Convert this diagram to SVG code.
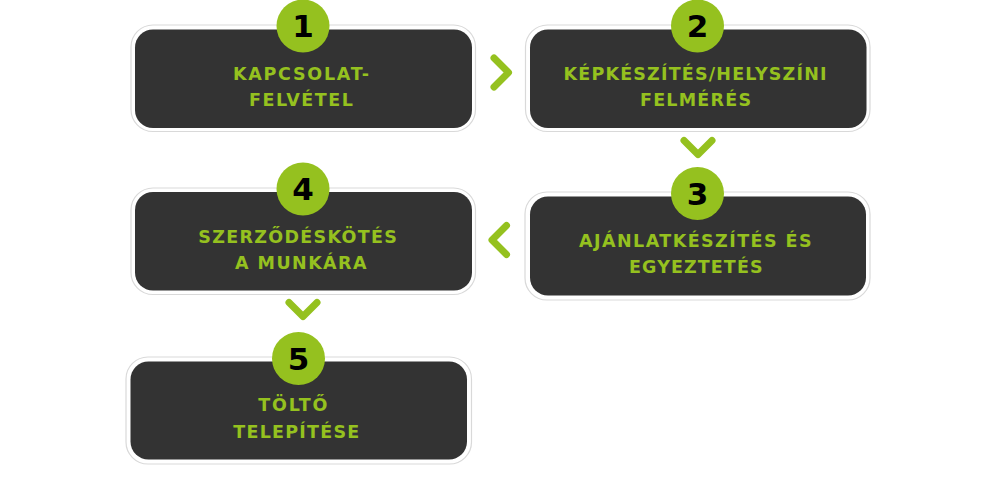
<svg xmlns="http://www.w3.org/2000/svg" width="1000" height="481" viewBox="0 0 1000 481">
<style>
.frame{fill:#ffffff;stroke:#d9d9d9;stroke-width:1.2}
.box{fill:#333333}
.badge{fill:#95c11f}
.num{font-family:"DejaVu Sans","Open Sans",sans-serif;font-weight:700;font-size:31px;fill:#000000;text-anchor:middle}
.lbl{font-family:"DejaVu Sans","Liberation Sans",sans-serif;font-weight:700;font-size:17.5px;fill:#95c11f;text-anchor:middle}
.chev{fill:none;stroke:#95c11f;stroke-width:7;stroke-linecap:round;stroke-linejoin:round}
</style>
<rect width="1000" height="481" fill="#ffffff"/>
<g id="connectors">
<polyline class="chev" points="494,58 508.5,72.5 494,87"/>
<polyline class="chev" points="684,140.5 698,154.5 712,140.5"/>
<polyline class="chev" points="506.5,225.5 492,240 506.5,254.5"/>
<polyline class="chev" points="289,302.5 303,316.5 317,302.5"/>
</g>
<g id="node1">
<rect class="frame" x="131" y="25" width="344.5" height="106.5" rx="22"/>
<rect class="box" x="135" y="29.5" width="337" height="98.5" rx="18"/>
<circle class="badge" cx="303" cy="26" r="26.5"/>
<text class="num" x="303" y="37">1</text>
<text class="lbl" x="301" y="79.5" textLength="136" lengthAdjust="spacing">KAPCSOLAT-</text>
<text class="lbl" x="301" y="105.5" textLength="104" lengthAdjust="spacing">FELVÉTEL</text>
</g>
<g id="node2">
<rect class="frame" x="525.5" y="25" width="344.5" height="106.5" rx="22"/>
<rect class="box" x="530" y="29.5" width="336.5" height="98.5" rx="18"/>
<circle class="badge" cx="697.5" cy="26" r="26.5"/>
<text class="num" x="697.5" y="37">2</text>
<text class="lbl" x="695" y="80" textLength="263" lengthAdjust="spacing">KÉPKÉSZÍTÉS/HELYSZÍNI</text>
<text class="lbl" x="695.5" y="106" textLength="111" lengthAdjust="spacing">FELMÉRÉS</text>
</g>
<g id="node3">
<rect class="frame" x="525" y="192" width="345" height="108" rx="22"/>
<rect class="box" x="530" y="196.5" width="336" height="99" rx="18"/>
<circle class="badge" cx="697.5" cy="193.5" r="26.5"/>
<text class="num" x="697.5" y="204.5">3</text>
<text class="lbl" x="695.3" y="247.3" textLength="232.5" lengthAdjust="spacing">AJÁNLATKÉSZÍTÉS ÉS</text>
<text class="lbl" x="695.8" y="273.3" textLength="133.5" lengthAdjust="spacing">EGYEZTETÉS</text>
</g>
<g id="node4">
<rect class="frame" x="131" y="188" width="344.5" height="106.5" rx="22"/>
<rect class="box" x="135" y="192" width="337" height="98.5" rx="18"/>
<circle class="badge" cx="303" cy="189" r="26.5"/>
<text class="num" x="303" y="200">4</text>
<text class="lbl" x="297.5" y="243.3" textLength="198.5" lengthAdjust="spacing">SZERZŐDÉSKÖTÉS</text>
<text class="lbl" x="300.8" y="269" textLength="131.5" lengthAdjust="spacing">A MUNKÁRA</text>
</g>
<g id="node5">
<rect class="frame" x="126" y="357" width="345.5" height="107" rx="22"/>
<rect class="box" x="130.5" y="361.5" width="336.5" height="98" rx="18"/>
<circle class="badge" cx="298.5" cy="358.5" r="26.5"/>
<text class="num" x="298.5" y="369.5">5</text>
<text class="lbl" x="292.8" y="410.7" textLength="69" lengthAdjust="spacing">TÖLTŐ</text>
<text class="lbl" x="296.3" y="437.7" textLength="126" lengthAdjust="spacing">TELEPÍTÉSE</text>
</g>
</svg>
